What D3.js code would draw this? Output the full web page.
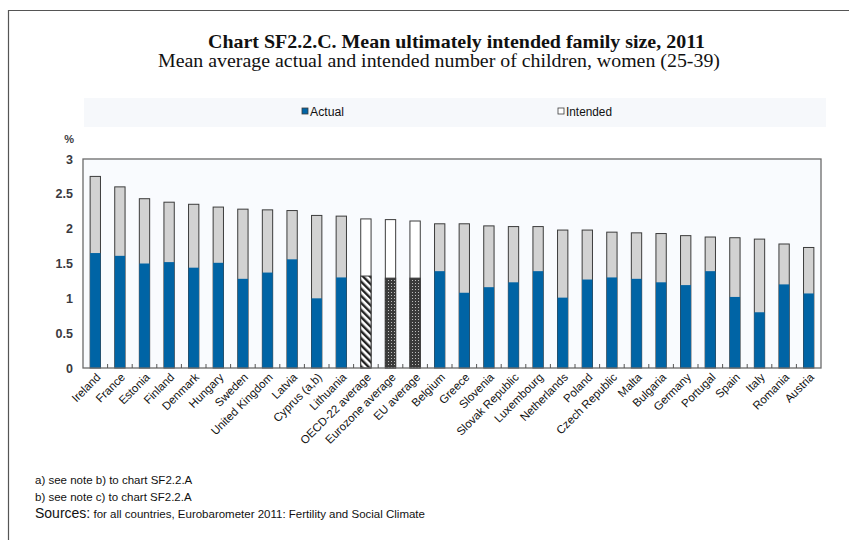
<!DOCTYPE html>
<html>
<head>
<meta charset="utf-8">
<script src="https://cdn.jsdelivr.net/npm/d3@7"></script>
<style>
  html, body { margin: 0; padding: 0; background: #fff; }
  svg { display: block; }
</style>
</head>
<body>
<svg id="chart" width="849" height="540"></svg>
<script>
const categories = ["Ireland","France","Estonia","Finland","Denmark","Hungary","Sweden","United Kingdom","Latvia","Cyprus (a,b)","Lithuania","OECD-22 average","Eurozone average","EU average","Belgium","Greece","Slovenia","Slovak Republic","Luxembourg","Netherlands","Poland","Czech Republic","Malta","Bulgaria","Germany","Portugal","Spain","Italy","Romania","Austria"];
const actual = [1.65,1.61,1.50,1.52,1.44,1.51,1.28,1.37,1.56,1.00,1.30,1.32,1.29,1.29,1.39,1.08,1.16,1.23,1.39,1.01,1.27,1.30,1.28,1.23,1.19,1.39,1.02,0.80,1.20,1.07];
const intended = [2.75,2.60,2.43,2.38,2.35,2.31,2.28,2.27,2.26,2.19,2.18,2.14,2.13,2.11,2.07,2.07,2.04,2.03,2.03,1.98,1.98,1.95,1.94,1.93,1.90,1.88,1.87,1.85,1.78,1.73];
const averageStyle = {"OECD-22 average":"hatch","Eurozone average":"dots","EU average":"dots"};
const yTicks = [0,0.5,1,1.5,2,2.5,3];
const yTickLabels = ["0","0.5","1","1.5","2","2.5","3"];
const seriesNames = ["Actual","Intended"];

const svg = d3.select("#chart");
const W = 849, H = 540;
const m = {left: 83, right: 28, top: 159, bottom: 172};
const pw = W - m.left - m.right, ph = H - m.top - m.bottom;

const BLUE = "#0064a5", GREY = "#d2d2d2", EDGE = "#3c3c3c";
const sans = "'Liberation Sans Narrow','Liberation Sans',Arial,sans-serif";
const serif = "'Liberation Serif','Times New Roman',serif";

const defs = svg.append("defs");
const hatch = defs.append("pattern").attr("id","hatch").attr("patternUnits","userSpaceOnUse")
  .attr("width",5).attr("height",5).attr("patternTransform","rotate(-45)");
hatch.append("rect").attr("width",5).attr("height",5).attr("fill","#fff");
hatch.append("rect").attr("width",2.4).attr("height",5).attr("fill","#222");
const dots = defs.append("pattern").attr("id","dots").attr("patternUnits","userSpaceOnUse")
  .attr("width",3).attr("height",3);
dots.append("rect").attr("width",3).attr("height",3).attr("fill","#3a3a3a");
dots.append("rect").attr("x",1).attr("y",1).attr("width",1).attr("height",1).attr("fill","#bdbdbd");

// outer frame
svg.append("path").attr("d", `M8.5,${H} V10.5 H${W}`).attr("fill","none").attr("stroke","#555").attr("stroke-width",1.2);

// titles
svg.append("text").attr("x",208).attr("y",48)
  .attr("font-family",serif).attr("font-weight","bold").attr("font-size",19).attr("fill","#111")
  .attr("textLength",497).attr("lengthAdjust","spacingAndGlyphs")
  .text("Chart SF2.2.C. Mean ultimately intended family size, 2011");
svg.append("text").attr("x",158).attr("y",67)
  .attr("font-family",serif).attr("font-size",18).attr("fill","#111")
  .attr("textLength",562).attr("lengthAdjust","spacingAndGlyphs")
  .text("Mean average actual and intended number of children, women (25-39)");

// legend band
svg.append("rect").attr("x",84).attr("y",98).attr("width",742).attr("height",29).attr("fill","#f6f8fb");
const legendX = [302, 558];
seriesNames.forEach((s,i) => {
  svg.append("rect").attr("x",legendX[i]).attr("y",108).attr("width",6).attr("height",6)
    .attr("fill", i===0 ? BLUE : "#fff").attr("stroke", EDGE).attr("stroke-width",0.8);
  svg.append("text").attr("x",legendX[i]+8).attr("y",115.5).attr("font-family",sans)
    .attr("font-size",12).attr("fill","#111")
    .attr("textLength", i===0 ? 34 : 46).attr("lengthAdjust","spacingAndGlyphs").text(s);
});

const x = d3.scaleBand().domain(categories).range([m.left, m.left+pw]).paddingInner(0.58).paddingOuter(0.29);
const y = d3.scaleLinear().domain([0,3]).range([m.top+ph, m.top]);

// plot bg
svg.append("rect").attr("x",m.left).attr("y",m.top).attr("width",pw).attr("height",ph).attr("fill","#f9fbfe");

const data = categories.map((c,i) => ({c, a: actual[i], t: intended[i], s: averageStyle[c]}));

const g = svg.append("g");
g.selectAll("rect.int").data(data).join("rect").attr("class","int")
  .attr("x", d => x(d.c)).attr("width", x.bandwidth())
  .attr("y", d => y(d.t)).attr("height", d => y(0)-y(d.t))
  .attr("fill", d => d.s ? "#fff" : GREY).attr("stroke", EDGE).attr("stroke-width",1);
g.selectAll("rect.act").data(data).join("rect").attr("class","act")
  .attr("x", d => x(d.c)).attr("width", x.bandwidth())
  .attr("y", d => y(d.a)).attr("height", d => y(0)-y(d.a))
  .attr("fill", d => d.s ? `url(#${d.s})` : BLUE).attr("stroke", d => d.s ? EDGE : "none").attr("stroke-width",1);

// plot frame
svg.append("rect").attr("x",m.left).attr("y",m.top).attr("width",pw).attr("height",ph)
  .attr("fill","none").attr("stroke","#6a6a6a").attr("stroke-width",1.3);

// bottom ticks between categories
const tickPos = d3.range(1, categories.length).map(i => m.left + i*pw/categories.length);
svg.selectAll("line.xt").data(tickPos).join("line").attr("class","xt")
  .attr("x1", d=>d).attr("x2", d=>d).attr("y1", y(0)).attr("y2", y(0)-4)
  .attr("stroke","#555").attr("stroke-width",1);

// y axis labels
const yAxis = d3.axisLeft(y).tickValues(yTicks).tickFormat((d,i) => yTickLabels[i]).tickSize(0).tickPadding(10);
const ya = svg.append("g").attr("transform",`translate(${m.left},0)`).call(yAxis);
ya.select(".domain").remove();
ya.selectAll("text").attr("font-family","'Liberation Sans',Arial,sans-serif").attr("font-size",12.5)
  .attr("font-weight","bold").attr("fill","#3a3a40");
svg.append("text").attr("x",74).attr("y",143).attr("text-anchor","end")
  .attr("font-family","'Liberation Sans',Arial,sans-serif").attr("font-size",11).attr("font-weight","bold")
  .attr("fill","#3a3a40").text("%");

// x labels
const xAxis = d3.axisBottom(x).tickSize(0).tickPadding(0);
const xa = svg.append("g").attr("transform",`translate(0,${y(0)})`).call(xAxis);
xa.select(".domain").remove();
xa.selectAll("text").attr("font-family",sans).attr("font-size",11.5).attr("fill","#111")
  .attr("text-anchor","end").attr("dy",0)
  .attr("transform","translate(6,10) rotate(-45)");

// footnotes
const notes = ["a) see note b) to chart SF2.2.A","b) see note c) to chart SF2.2.A"];
notes.forEach((n,i) => {
  svg.append("text").attr("x",35).attr("y",484+i*17).attr("font-family",sans).attr("font-size",11.5)
    .attr("fill","#111").text(n);
});
const src = svg.append("text").attr("x",35).attr("y",518).attr("font-family",sans).attr("fill","#111");
src.append("tspan").attr("font-family","'Liberation Sans',Arial,sans-serif").attr("font-size",14).text("Sources:");
src.append("tspan").attr("font-size",11.5).text(" for all countries, Eurobarometer 2011: Fertility and Social Climate");
</script>
</body>
</html>
